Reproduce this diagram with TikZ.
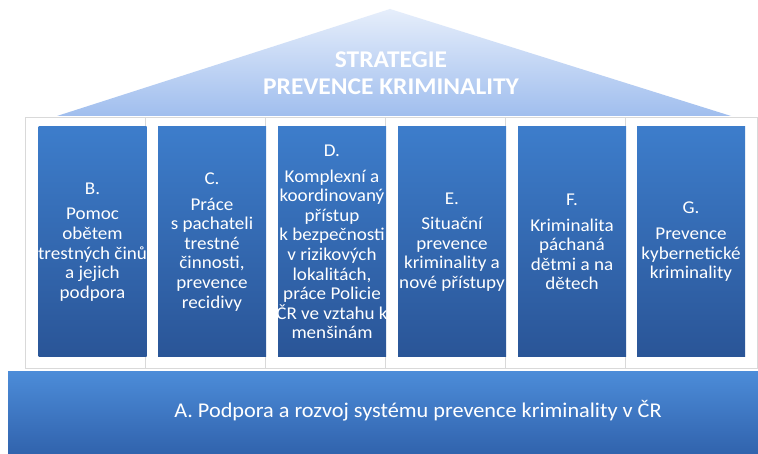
\documentclass[tikz,border=0pt]{standalone}
\usepackage{fontspec}
\setmainfont{Carlito}[FakeStretch=1.06]
\usetikzlibrary{shadings}
\definecolor{colTop}{HTML}{3D7DCB}
\definecolor{colBot}{HTML}{2A5597}
\definecolor{roofTop}{HTML}{E6EEFB}
\definecolor{roofBot}{HTML}{A0BEEE}
\definecolor{baseTop}{HTML}{4C8CD8}
\definecolor{baseBot}{HTML}{3062AC}
\definecolor{frameLine}{HTML}{D9D9D9}
\tikzset{
  pillar/.style={draw=none, top color=colTop, bottom color=colBot,
    minimum width=108pt, minimum height=230pt, inner sep=0pt},
  ptext/.style={text=white, align=center, inner sep=0pt, font=\fontsize{18}{19.6}\selectfont},
  pframe/.style={fill=white, draw=frameLine, line width=0.8pt},
  rooftext/.style={text=white, align=center, font=\fontsize{24}{26.5}\selectfont\bfseries},
  basetext/.style={text=white, font=\fontsize{21}{24}\selectfont}
}
\begin{document}
\begin{tikzpicture}[x=1pt,y=-1pt]
\useasboundingbox (0,0) rectangle (758,454);
\fill[white] (0,0) rectangle (758,454);
% roof
\coordinate (apex) at (390,9);
\coordinate (roofL) at (57,116);
\coordinate (roofR) at (731,116);
\shade[top color=roofTop, bottom color=roofBot] (apex) -- (roofR) -- (roofL) -- cycle;
\node[rooftext] (title) at (391,73) {STRATEGIE\\PREVENCE KRIMINALITY};
% frames
\foreach \i in {0,...,4} {
  \draw[pframe] (25+120*\i,117) rectangle (147+120*\i,368);
}
\draw[pframe] (625,117) rectangle (757,368);
% pillars
\node[pillar] (B) at (92.5,242) {};
\node[pillar] (C) at (212,242) {};
\node[pillar] (D) at (332,242) {};
\node[pillar] (E) at (452,242) {};
\node[pillar] (F) at (572,242) {};
\node[pillar] (G) at (691,242) {};
\node[ptext] (Bt) at (B) {B.\\[6pt]Pomoc\\obětem\\trestných činů\\a jejich\\podpora};
\node[ptext] (Ct) at (C) {C.\\[6pt]Práce\\s pachateli\\trestné\\činnosti,\\prevence\\recidivy};
\node[ptext] (Dt) at (D) {D.\\[6pt]Komplexní a\\koordinovaný\\přístup\\k bezpečnosti\\v rizikových\\lokalitách,\\práce Policie\\ČR ve vztahu k\\menšinám};
\node[ptext] (Et) at (E) {E.\\[6pt]Situační\\prevence\\kriminality a\\nové přístupy};
\node[ptext] (Ft) at (F) {F.\\[6pt]Kriminalita\\páchaná\\dětmi a na\\dětech};
\node[ptext] (Gt) at (G) {G.\\[6pt]Prevence\\kybernetické\\kriminality};
% base
\shade[top color=baseTop, bottom color=baseBot] (8,372) rectangle (760,456);
\node[basetext] (A) at (418,411) {A. Podpora a rozvoj systému prevence kriminality v ČR};
\end{tikzpicture}
\end{document}
